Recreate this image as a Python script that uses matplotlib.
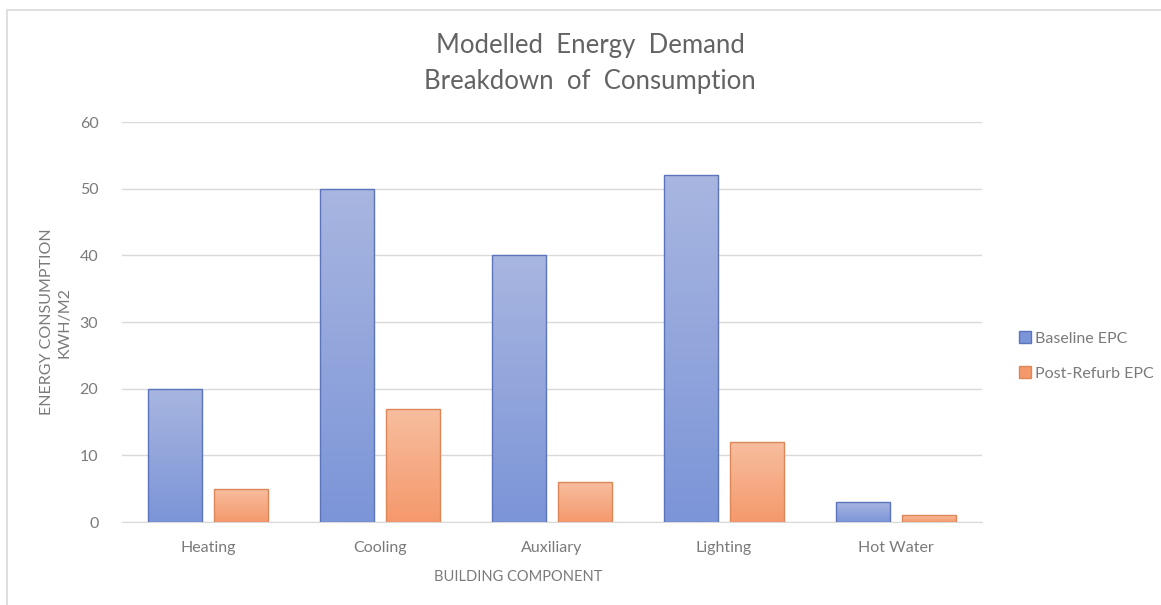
import matplotlib.pyplot as plt
import matplotlib.colors as mcolors
from matplotlib.patches import Rectangle
import numpy as np

plt.rcParams['font.family'] = ['Lato', 'DejaVu Sans']

categories = ["Heating", "Cooling", "Auxiliary", "Lighting", "Hot Water"]
baseline_epc = [20, 50, 40, 52, 3]
post_refurb_epc = [5, 17, 6, 12, 1]
series_names = ["Baseline EPC", "Post-Refurb EPC"]
y_ticks = [0, 10, 20, 30, 40, 50, 60]

title_grey = "#636363"
text_grey = "#7A7A7A"
blue_top, blue_bottom, blue_edge = "#A8B6E0", "#7C95D8", "#5B74BC"
orange_top, orange_bottom, orange_edge = "#F7BE9F", "#F5996C", "#DD8758"

fig = plt.figure(figsize=(11.61, 6.05), dpi=100)
ax = fig.add_axes([122 / 1161, 1 - 522 / 605, 860 / 1161, 400 / 605])

# light frame around the chart area (top and left edges show)
fig.add_artist(Rectangle((7 / 1161, -0.1), 1.2, 1 - 10 / 605 + 0.1,
                         transform=fig.transFigure, fill=False,
                         edgecolor="#D9D9D9", linewidth=1.2))

x = np.arange(len(categories))
width = 0.314
offset = 0.192

bars_base = ax.bar(x - offset, baseline_epc, width, facecolor="none",
                   edgecolor=blue_edge, linewidth=1.0, zorder=3)
bars_post = ax.bar(x + offset, post_refurb_epc, width, facecolor="none",
                   edgecolor=orange_edge, linewidth=1.0, zorder=3)


def gradient_fill(bars, top, bottom):
    cmap = mcolors.LinearSegmentedColormap.from_list("g", [bottom, top])
    grad = np.linspace(0, 1, 256).reshape(-1, 1)
    for b in bars:
        x0, y0 = b.get_x(), b.get_y()
        w, h = b.get_width(), b.get_height()
        im = ax.imshow(grad, cmap=cmap, aspect="auto", origin="lower",
                       extent=(x0, x0 + w, y0, y0 + h), zorder=2)
        im.set_clip_path(b)


gradient_fill(bars_base, blue_top, blue_bottom)
gradient_fill(bars_post, orange_top, orange_bottom)
ax.set_xlim(-0.5, len(categories) - 0.5)
ax.set_ylim(0, 60)

ax.set_yticks(y_ticks)
ax.set_xticks(x)
ax.set_xticklabels(categories)
ax.tick_params(axis="both", length=0, labelsize=11.5, labelcolor=text_grey)
ax.tick_params(axis="y", pad=17)
ax.tick_params(axis="x", pad=14)
ax.grid(axis="y", color="#D9D9D9", linewidth=1.0, zorder=0)
ax.set_axisbelow(True)
for side in ["top", "right", "left"]:
    ax.spines[side].set_visible(False)
ax.spines["bottom"].set_color("#D9D9D9")

fig.text(590 / 1161, 1 - 46 / 605, "Modelled  Energy  Demand",
         ha="center", va="center", fontsize=18.5, color=title_grey)
fig.text(590 / 1161, 1 - 81 / 605, "Breakdown  of  Consumption",
         ha="center", va="center", fontsize=18.5, color=title_grey)

fig.text(518 / 1161, 1 - 577 / 605, "BUILDING COMPONENT",
         ha="center", va="center", fontsize=10.5, color=text_grey)
fig.text(56 / 1161, 1 - 322 / 605, "ENERGY CONSUMPTION\nKWH/M2",
         ha="center", va="center", rotation=90, fontsize=11.5,
         color=text_grey, linespacing=1.35)

handles = [Rectangle((0, 0), 1, 1, facecolor=blue_bottom, edgecolor=blue_edge),
           Rectangle((0, 0), 1, 1, facecolor=orange_bottom, edgecolor=orange_edge)]
fig.legend(handles, series_names, loc="center left",
           bbox_to_anchor=(1005 / 1161, 1 - 356 / 605), frameon=False,
           fontsize=11.5, labelcolor=text_grey, handlelength=0.7,
           handleheight=0.7, handletextpad=0.3, labelspacing=1.3)

fig.savefig("out.png", dpi=100)
